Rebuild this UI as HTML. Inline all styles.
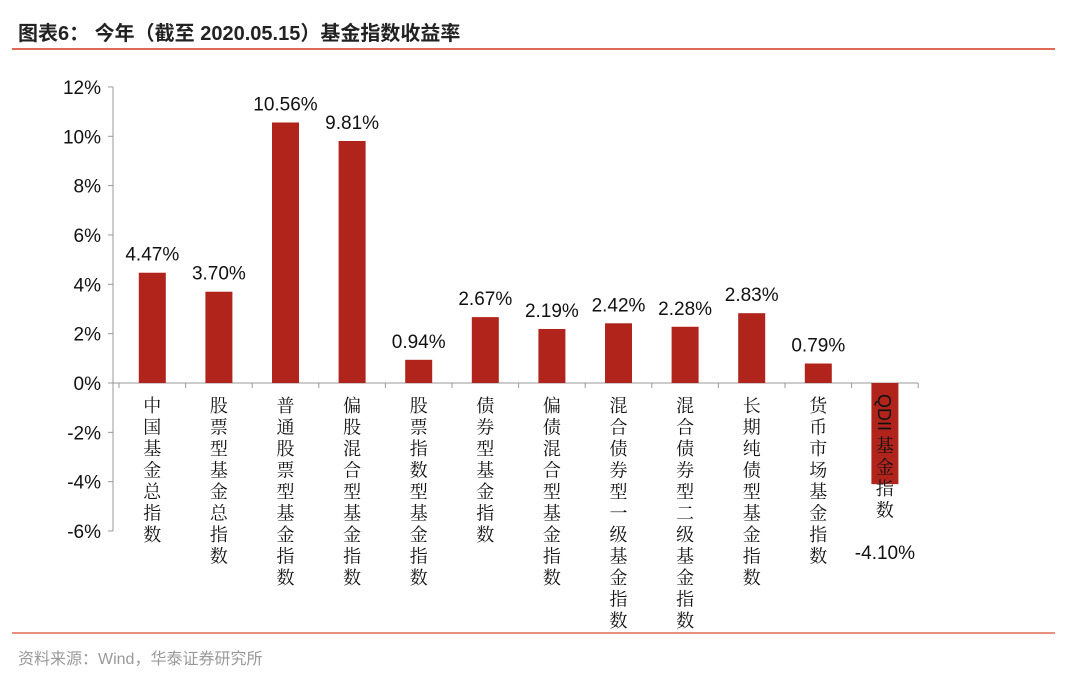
<!DOCTYPE html>
<html><head><meta charset="utf-8"><style>
body{margin:0;background:#fff;}
svg text{font-family:"Liberation Sans","Noto Sans CJK SC",sans-serif;}
svg text.cj{font-family:"Noto Serif CJK SC",serif;}
</style></head><body>
<svg width="1080" height="681" xmlns="http://www.w3.org/2000/svg">
<text x="18" y="40" font-size="20" font-weight="bold" fill="#222">图表6：  今年（截至 2020.05.15）基金指数收益率</text>
<line x1="12" y1="49" x2="1055" y2="49" stroke="#e06a55" stroke-width="2"/>
<line x1="12" y1="633" x2="1055" y2="633" stroke="#e06a55" stroke-width="1.5"/>
<text x="18" y="664" font-size="16" fill="#999">资料来源：Wind，华泰证券研究所</text>
<g id="plot"></g>
</svg>
<script>
const categories=["中国基金总指数","股票型基金总指数","普通股票型基金指数","偏股混合型基金指数","股票指数型基金指数","债券型基金指数","偏债混合型基金指数","混合债券型一级基金指数","混合债券型二级基金指数","长期纯债型基金指数","货币市场基金指数","QDII基金指数"];
const values=[4.47,3.70,10.56,9.81,0.94,2.67,2.19,2.42,2.28,2.83,0.79,-4.10];
const yTicks=[12,10,8,6,4,2,0,-2,-4,-6];
const NS="http://www.w3.org/2000/svg";
const g=document.getElementById('plot');
const y0=383, pxPer=24.67, xa=119, cw=66.6, bw=27;
const yS=v=>y0-v*pxPer;
const xC=i=>xa+(i+0.5)*cw;
function mk(t,a,txt){const e=document.createElementNS(NS,t);for(const k in a)e.setAttribute(k,a[k]);if(txt!=null)e.textContent=txt;g.appendChild(e);return e;}
let ax=mk('line',{x1:113,y1:yS(12),x2:113,y2:yS(-6),stroke:'#999'});


yTicks.forEach(t=>{
 let l=mk('line',{x1:108,x2:113,y1:yS(t),y2:yS(t),stroke:'#999'});
 
 
 let tx=mk('text',{x:101,y:yS(t)+7,'font-size':19,'text-anchor':'end',fill:'#111'},t+'%');
 
 
});
let xl=mk('line',{x1:113,y1:y0,x2:xa+categories.length*cw,y2:y0,stroke:'#999'});


for(let i=0;i<=categories.length;i++){
 let l=mk('line',{x1:xa+i*cw,x2:xa+i*cw,y1:y0,y2:y0+5,stroke:'#999'});
 
 
}
values.forEach((v,i)=>{
 const c=xC(i);
 let r=mk('rect',{x:c-bw/2,y:Math.min(yS(v),y0),width:bw,height:Math.abs(yS(v)-y0),fill:'#b0241c'});
 
 
 const ly=v>=0?yS(v)-12:y0+176;
 let t=mk('text',{x:c,y:ly,'font-size':19,'text-anchor':'middle',fill:'#111'},v.toFixed(2)+'%');
 
 
 let chars=categories[i], yy=412;
 if(chars.startsWith('QDII')){
  let q=mk('text',{x:c-7,y:394,'font-size':18,fill:'#111',transform:`rotate(90 ${c-7} 394)`},'QDII');
  
  
  chars=chars.slice(4); yy=452;
 }
 [...chars].forEach((ch,k)=>{
  let t2=mk('text',{x:c,y:yy+k*21.5,'font-size':18,'text-anchor':'middle',fill:'#111','class':'cj'},ch);
  
  
 });
});
</script>
</body></html>
